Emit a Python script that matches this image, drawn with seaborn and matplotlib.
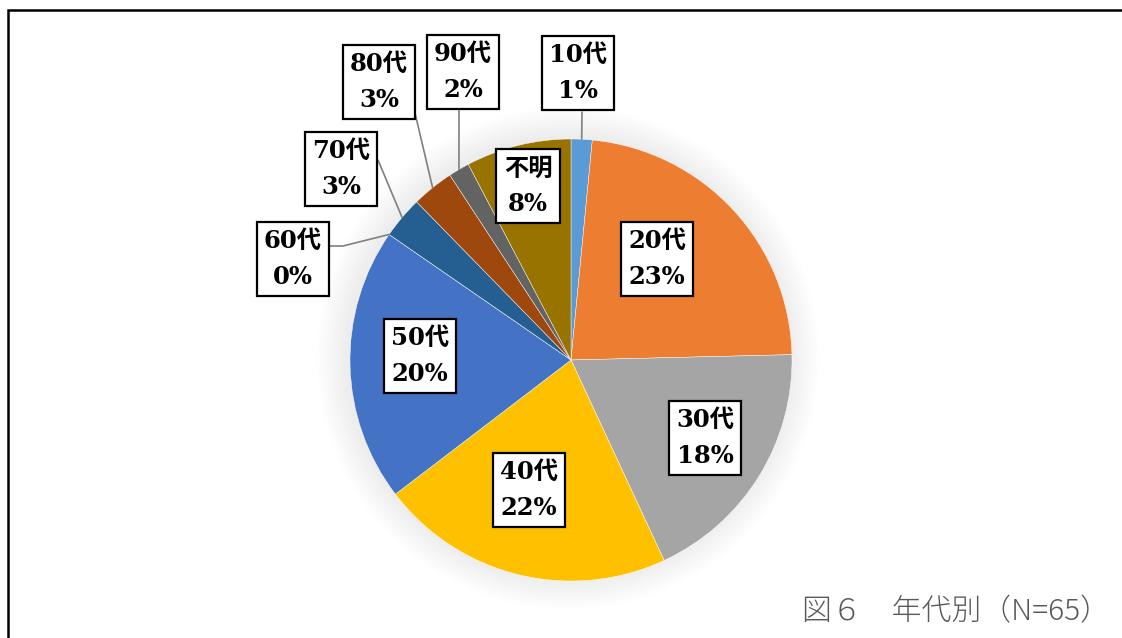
import matplotlib.pyplot as plt
import seaborn as sns
import numpy as np

ages = ['10代', '20代', '30代', '40代', '50代', '60代', '70代', '80代', '90代', '不明']
counts = [1, 15, 12, 14, 13, 0, 2, 2, 1, 5]
pct_labels = ['1%', '23%', '18%', '22%', '20%', '0%', '3%', '3%', '2%', '8%']
colors = ['#5B9BD5', '#ED7D31', '#A5A5A5', '#FFC000', '#4472C4',
          '#70AD47', '#255E91', '#9E480E', '#636363', '#997300']
caption = '図６　年代別（N=65）'

W, H = 1122, 638
cx, cy, r = 571, 360, 221   # pie centre / radius, pixels from top

# label box centres (pixels from top) and leader line anchors (None = inside label)
label_pos = [(578, 73), (657, 259), (705, 438), (529, 490), (420, 356),
             (293, 259), (341, 169), (379, 82), (463, 72), (528, 186)]
leader_from = [[(582, 112)], None, None, None, None,
               [(330, 246), (343, 246)], [(378, 160)], [(415, 113)], [(459, 109)], None]

sns.set_theme(style='white')
plt.rcParams['font.family'] = ['DejaVu Serif', 'Noto Sans CJK JP']

fig = plt.figure(figsize=(W / 100, H / 100), dpi=100)
ax = fig.add_axes([0, 0, 1, 1])

# soft shadow round the pie
for k in range(18, 0, -1):
    ax.add_patch(plt.Circle((cx - 3, H - cy + 2), r + k * 1.7, color='black', alpha=0.0055, lw=0))

wedges, _ = ax.pie(counts, colors=colors, startangle=90, counterclock=False,
                   center=(cx, H - cy), radius=r,
                   wedgeprops=dict(edgecolor='white', linewidth=0.3))

for i, w in enumerate(wedges):
    lx, ly = label_pos[i]
    ax.text(lx, H - ly, f'{ages[i]}\n{pct_labels[i]}', ha='center', va='center',
            fontsize=17.5, fontweight='bold', linespacing=1.6, color='black',
            bbox=dict(boxstyle='square,pad=0.3', fc='white', ec='black', lw=1.6),
            zorder=5)
    if leader_from[i]:
        mid = np.deg2rad((w.theta1 + w.theta2) / 2)
        ex, ey = cx + r * np.cos(mid), (H - cy) + r * np.sin(mid)
        xs = [p[0] for p in leader_from[i]] + [ex]
        ys = [H - p[1] for p in leader_from[i]] + [ey]
        ax.plot(xs, ys, color='#808080', lw=1.2, zorder=4)

# frame
ax.plot([8, 8, W], [0, H - 9.5, H - 9.5], color='black', lw=1.8, solid_joinstyle='miter')

ax.text(1110, H - 612, caption, ha='right', va='center', fontsize=21.5,
        color='#595959', family=['Noto Sans CJK JP'], fontweight='light')

ax.set_xlim(0, W)
ax.set_ylim(0, H)
ax.axis('off')
fig.savefig('out.png', dpi=100)
